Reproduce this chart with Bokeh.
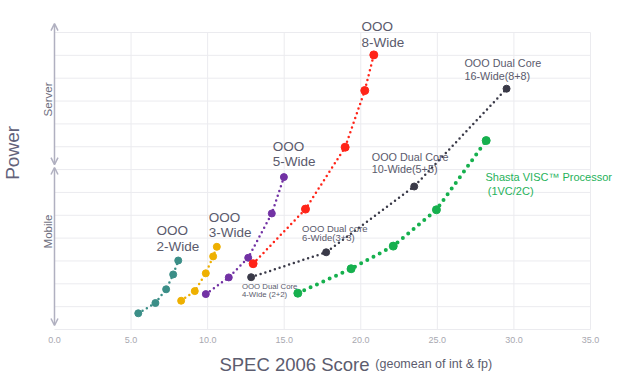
import math
from bokeh.plotting import figure
from bokeh.models import Range1d, Arrow, OpenHead
from bokeh.core.properties import value
from bokeh.embed import file_html
from bokeh.resources import INLINE

# ---- data ----
x_ticks = [0, 5, 10, 15, 20, 25, 30, 35]
x_tick_labels = ["0.0", "5.0", "10.0", "15.0", "20.0", "25.0", "30.0", "35.0"]
y_grid = list(range(0, 14))

ooo2_x = [5.47, 6.59, 7.29, 7.75, 8.08]
ooo2_y = [0.71, 1.16, 1.76, 2.41, 3.02]
ooo3_x = [8.27, 9.16, 9.88, 10.36, 10.60]
ooo3_y = [1.26, 1.68, 2.46, 3.20, 3.62]
ooo5_x = [9.88, 11.38, 12.65, 14.19, 14.98]
ooo5_y = [1.55, 2.28, 3.14, 5.08, 6.67]
ooo8_x = [12.97, 16.39, 18.98, 20.26, 20.85]
ooo8_y = [2.88, 5.27, 7.98, 10.46, 12.02]
dual_x = [12.84, 17.74, 23.49, 29.52]
dual_y = [2.29, 3.38, 6.26, 10.54]
shasta_x = [15.89, 19.37, 22.12, 24.94, 28.19]
shasta_y = [1.59, 2.66, 3.65, 5.24, 8.27]

FONT = value("Liberation Sans")

p = figure(width=620, height=376,
           x_range=Range1d(-3.526, 36.96), y_range=Range1d(-2.057, 14.401),
           x_axis_type=None, y_axis_type=None, min_border=0,
           outline_line_color=None, toolbar_location=None,
           output_backend="svg", background_fill_color="white")

GRID = "#ebebef"
# horizontal grid
p.segment(x0=[0] * len(y_grid), y0=y_grid, x1=[35] * len(y_grid), y1=y_grid,
          line_color=GRID, line_width=1)
# vertical grid
p.segment(x0=x_ticks[1:], y0=[0] * (len(x_ticks) - 1), x1=x_ticks[1:],
          y1=[13] * (len(x_ticks) - 1), line_color=GRID, line_width=1)

# tick labels
p.text(x=x_ticks, y=[-0.44] * len(x_ticks), text=x_tick_labels,
       text_font=FONT, text_font_size="9px", text_color="#a8a8b0",
       text_align="center", text_baseline="middle")

# axis titles
p.text(x=[10.77], y=[-1.53], text=["SPEC 2006 Score"], text_font=FONT,
       text_font_size="18.5px", text_color="#5c5c6e", text_align="left",
       text_baseline="alphabetic")
p.text(x=[20.95], y=[-1.53], text=["(geomean of int & fp)"], text_font=FONT,
       text_font_size="12.5px", text_color="#5c5c6e", text_align="left",
       text_baseline="alphabetic")
p.text(x=[-2.71], y=[7.73], text=["Power"], text_font=FONT,
       text_font_size="19px", text_color="#62627a", angle=math.pi / 2,
       text_align="center", text_baseline="middle")
p.text(x=[-0.42, -0.42], y=[10.07, 4.29], text=["Server", "Mobile"],
       text_font=FONT, text_font_size="11.5px", text_color="#6e6e80",
       angle=math.pi / 2, text_align="center", text_baseline="middle")

# left double arrows
AX = "#b0b0c0"
for y0, y1 in [(7.22, 13.39), (0.175, 7.09)]:
    p.add_layout(Arrow(start=OpenHead(size=7, line_color=AX, line_width=1.5),
                       end=OpenHead(size=7, line_color=AX, line_width=1.5),
                       x_start=0, y_start=y0, x_end=0, y_end=y1,
                       line_color=AX, line_width=1.5))

series = [
    (ooo2_x, ooo2_y, "#3b8e87", 2.5, "0 5", 7),
    (ooo3_x, ooo3_y, "#eeb000", 2.5, "0 5", 7),
    (ooo5_x, ooo5_y, "#7232a4", 2.5, "0 5", 7),
    (ooo8_x, ooo8_y, "#ff2418", 2.5, "0 5", 8),
    (dual_x, dual_y, "#3a3a48", 2.5, "0 5", 7),
    (shasta_x, shasta_y, "#16b04e", 4, "0 7", 8),
]
for xs, ys, c, w, d, s in series:
    p.line(xs, ys, line_color=c, line_width=w, line_dash=d, line_cap="round")
    p.scatter(xs, ys, size=s, fill_color=c, line_color=c)

# annotations: (lines, x, first-line y, line gap, font size, color)
labels = [
    (["OOO", "2-Wide"], 6.66, 4.33, 0.68, "13.5px", "#5a5a6c"),
    (["OOO", "3-Wide"], 10.08, 4.92, 0.67, "13.5px", "#5a5a6c"),
    (["OOO", "5-Wide"], 14.25, 8.03, 0.66, "13.5px", "#5a5a6c"),
    (["OOO", "8-Wide"], 20.05, 13.26, 0.68, "13.5px", "#5a5a6c"),
    (["OOO Dual Core", "16-Wide(8+8)"], 26.77, 11.67, 0.57, "10.8px", "#5a5a6c"),
    (["OOO Dual Core", "10-Wide(5+5)"], 20.72, 7.53, 0.51, "10.8px", "#5a5a6c"),
    (["OOO Dual core", "6-Wide(3+3)"], 16.17, 4.44, 0.40, "9.5px", "#5a5a6c"),
    (["OOO Dual Core", "4-Wide (2+2)"], 12.24, 1.88, 0.35, "7.8px", "#5a5a6c"),
    (["Shasta VISC\u2122 Processor", "(1VC/2C)"], 28.14, 6.67, 0.59, "11px", "#1fb25a"),
]
for lines, lx, ly, gap, fs, col in labels:
    xs_l = [lx] + [lx + 0.15] * (len(lines) - 1) if col == "#1fb25a" else [lx] * len(lines)
    p.text(x=xs_l, y=[ly - i * gap for i in range(len(lines))],
           text=lines, text_font=FONT, text_font_size=fs, text_color=col,
           text_align="left", text_baseline="middle")

open("out.html", "w").write(file_html(p, INLINE))
